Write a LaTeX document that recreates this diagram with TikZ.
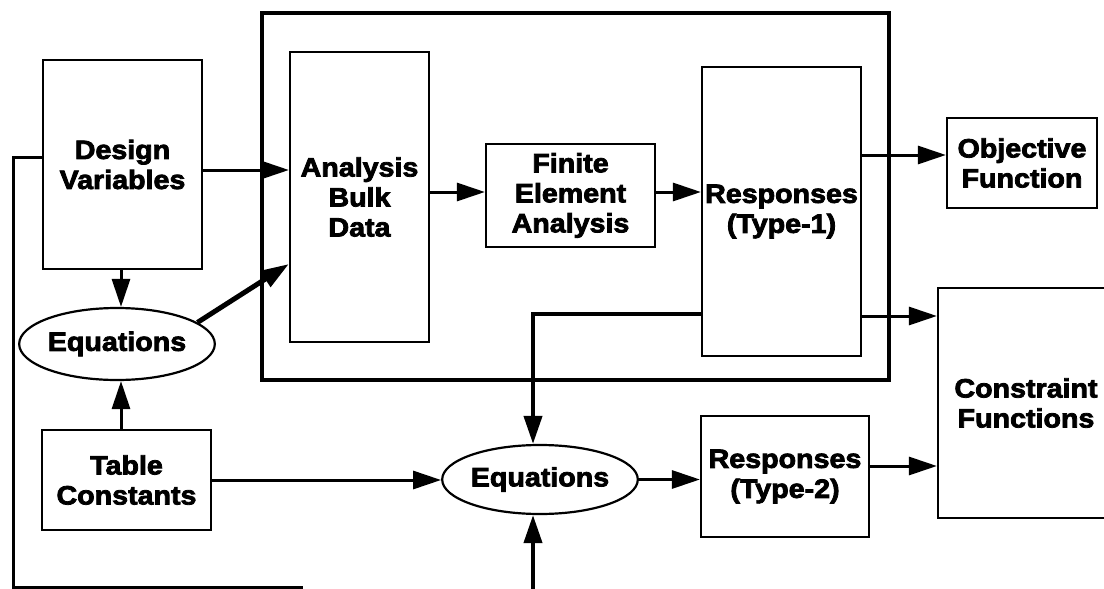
\documentclass[tikz,border=0pt]{standalone}
\usepackage{fontspec}
\setmainfont{Liberation Sans}[FakeStretch=1.08, BoldFeatures={FakeBold=3}]
\usetikzlibrary{arrows.meta,shapes.geometric}
\begin{document}
\begin{tikzpicture}[x=1pt,y=-1pt,
  lbl/.style={font=\fontsize{26.5}{30}\selectfont\bfseries, align=center},
  box/.style={lbl, draw, line width=2.2pt, inner sep=0pt},
  oval/.style={lbl, draw, line width=2.2pt, ellipse, inner sep=0pt},
  conn/.style={line width=3pt},
  arr/.style={conn, -{Triangle[length=28pt,width=18pt]}},
  heavy/.style={line width=4.5pt}]
\path[use as bounding box, clip] (0,0) rectangle (1104,589);

% outer thick frame
\node[draw, line width=4.5pt, minimum width=627pt, minimum height=367pt, inner sep=0pt] (outer) at (575.5,196.5) {};

% boxes
\node[box, minimum width=159pt, minimum height=209pt] (dv) at (122.5,164.5) {Design\\Variables};
\node[box, minimum width=139pt, minimum height=290pt] (abd) at (359.5,197) {Analysis\\Bulk\\Data};
\node[box, minimum width=169pt, minimum height=103pt] (fe) at (570.5,195.5) {Finite\\Element\\Analysis};
\node[box, minimum width=159pt, minimum height=289pt] (r1) at (781.5,211.5) {Responses\\(Type-1)};
\node[box, minimum width=150pt, minimum height=90pt] (obj) at (1022,163) {Objective\\Function};
\node[box, minimum width=176pt, minimum height=230pt] (con) at (1026,403) {Constraint\\Functions};
\node[oval, minimum width=167pt, minimum height=72pt] (eq1) at (117,344) {Equations};
\node[box, minimum width=169pt, minimum height=100pt] (tc) at (126.5,480) {Table\\Constants};
\node[oval, minimum width=170pt, minimum height=69pt] (eq2) at (540,479.5) {Equations};
\node[box, minimum width=168pt, minimum height=121pt] (r2) at (785,476.5) {Responses\\(Type-2)};

% free ends
\coordinate (fb1) at (13,587);
\coordinate (fbend) at (303,587);
\coordinate (bot) at (533,592);

% connectors
\draw[arr] ([yshift=-5.5pt]dv.east) -- ([yshift=-5.5pt]abd.west |- dv.east);
\draw[arr] (dv.south -| 121,0) -- (eq1.north -| 121,0);
\draw[arr] (tc.north -| 121,0) -- (eq1.south -| 121,0);
\draw[arr, line width=5pt] (eq1.15) -- ([yshift=-67pt]abd.west);
\draw[arr] ([yshift=3.5pt]abd.east |- fe.west) -- ([yshift=3.5pt]fe.west);
\draw[arr] ([yshift=3.5pt]fe.east) -- ([yshift=3.5pt]r1.west |- fe.east);
\draw[arr] ([yshift=8pt]r1.east |- obj.west) -- ([yshift=8pt]obj.west);
\draw[arr] ([yshift=87pt]r1.east |- con.west) -- ([yshift=87pt]con.west);
\draw[arr, line width=4pt] ([yshift=-102.5pt]r1.west) -| ([xshift=-7pt]eq2.north);
\draw[arr] (tc.east) -- (eq2.west |- tc.east);
\draw[arr] (eq2.east) -- (r2.west |- eq2.east);
\draw[arr] ([yshift=10.5pt]r2.east) -- ([yshift=10.5pt]con.west |- r2.east);
\draw[conn] ([yshift=7.5pt]dv.west) -| (fb1) -- (fbend);
\draw[arr, line width=4pt] (bot) -- ([xshift=-7pt]eq2.south);
\end{tikzpicture}
\end{document}
